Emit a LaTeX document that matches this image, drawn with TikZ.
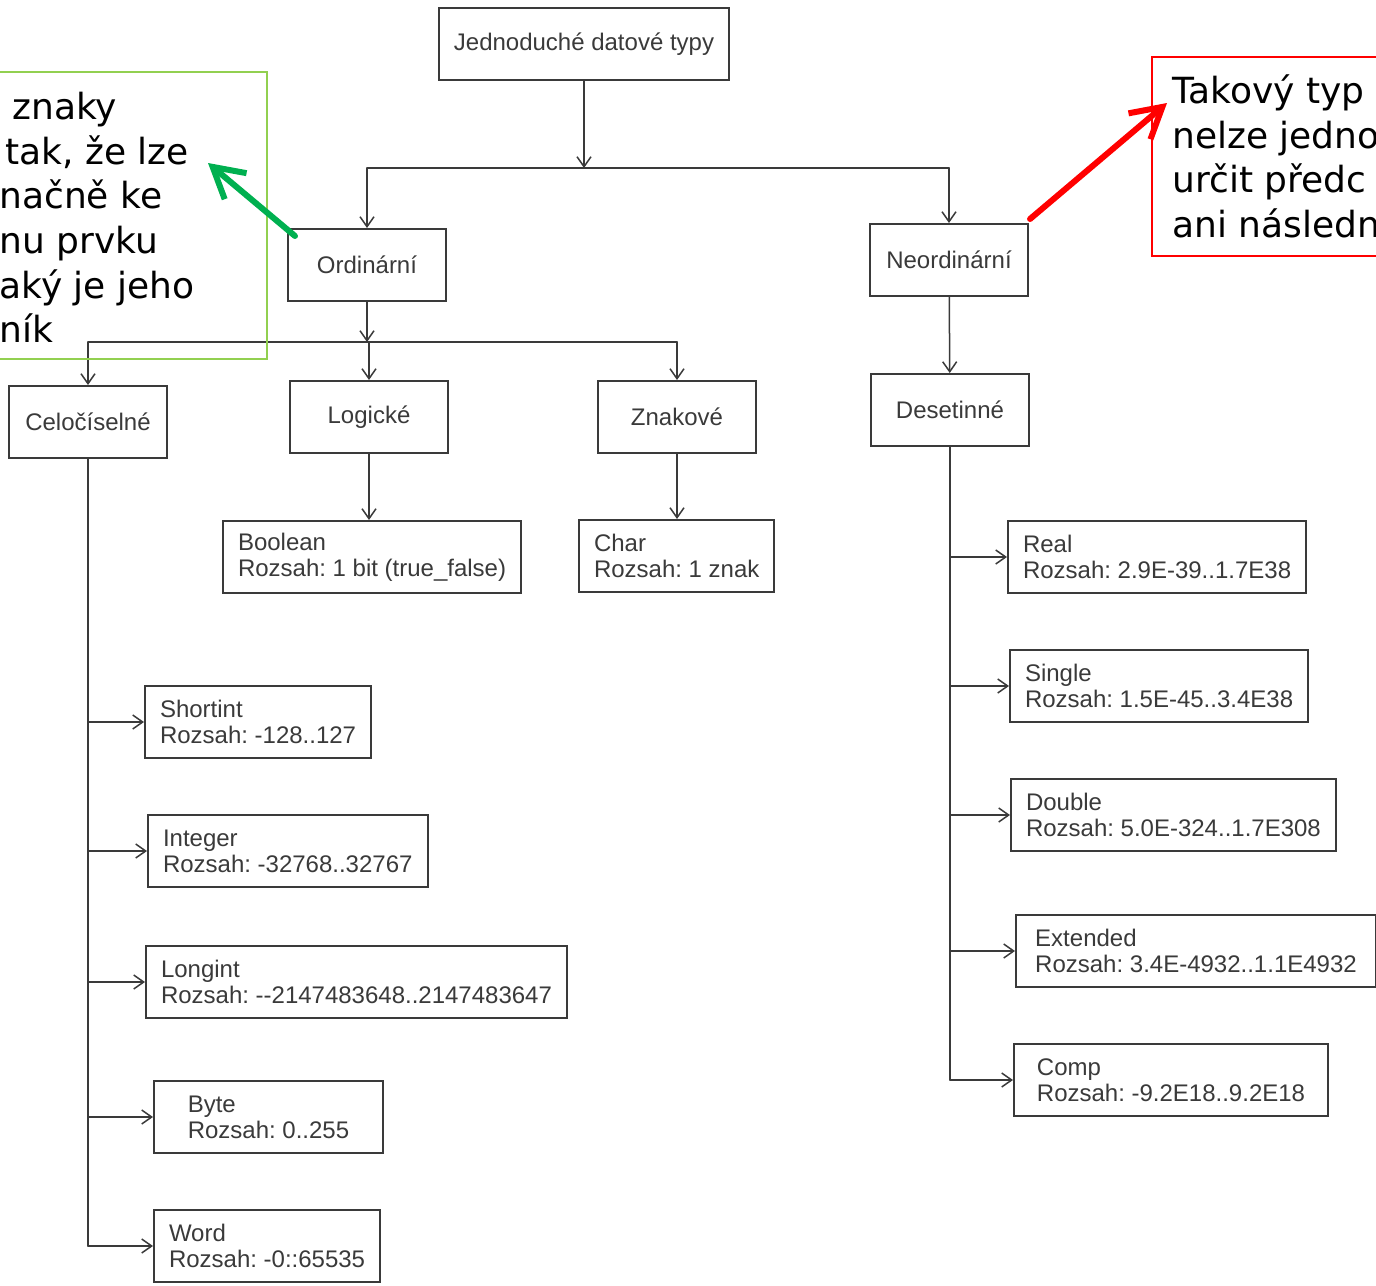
\documentclass[tikz,border=0pt]{standalone}
\usepackage{fontspec}
\setmainfont{Liberation Sans}
\newfontfamily\notefont{DejaVu Sans}
\usetikzlibrary{arrows.meta,positioning,calc}

\definecolor{ink}{HTML}{3A3A3A}
\definecolor{notegreen}{HTML}{92D050}
\definecolor{arrowgreen}{HTML}{00B050}
\definecolor{notered}{HTML}{FF0000}

\frenchspacing

\begin{document}
\begin{tikzpicture}[
  x=0.5pt,
  y=-0.5pt,
  line cap=round,
  font=\fontsize{12}{13}\selectfont,
  typebox/.style={draw=ink, line width=1pt, text=ink,
    inner xsep=7.5pt, minimum height=36pt},
  groupbox/.style={typebox, minimum width=79pt},
  leafbox/.style={typebox, align=left, anchor=west},
  link/.style={draw=ink, line width=0.75pt},
  arr/.style={link, -{Straight Barb[length=5pt,width=7pt]}},
  callout/.style={line width=3pt,
    -{Straight Barb[length=15pt,width=17pt]}},
  notetext/.style={font=\notefont\fontsize{18}{22}\selectfont,
    inner sep=0pt, anchor=base west}
]

% Page frame, the notes run off its edges
\useasboundingbox (0,0) rectangle (1376,1285);
\clip (0,0) rectangle (1376,1285);
\fill[white] (0,0) rectangle (1376,1285);

% Upper levels
\node[typebox] (simple) at (584,44) {Jednoduché datové typy};
\node[groupbox] (ordinal) at (367,265) {Ordinární};
\node[groupbox] (nonordinal) at (949,260) {Neordinární};
\node[groupbox] (integral) at (88,422) {Celočíselné};
\node[groupbox] (logical) at (369,417) {Logické};
\node[groupbox] (character) at (677,417) {Znakové};
\node[groupbox] (decimal) at (950,410) {Desetinné};

% Leaf types
\node[leafbox] (boolean) at (222,557) {Boolean\\Rozsah: 1 bit (true\_false)};
\node[leafbox] (char) at (578,556) {Char\\Rozsah: 1 znak};

\node[leafbox] (shortint) at (144,722) {Shortint\\Rozsah: -128..127};
\node[leafbox] (integer) at (147,851) {Integer\\Rozsah: -32768..32767};
\node[leafbox] (longint) at (145,982) {Longint\\Rozsah: -{}-2147483648..2147483647};
\node[leafbox, minimum width=114.5pt] (byte) at (153,1117) {Byte\\Rozsah: 0..255};
\node[leafbox] (word) at (153,1246) {Word\\Rozsah: -0::65535};

\node[leafbox] (real) at (1007,557) {Real\\Rozsah: 2.9E-39..1.7E38};
\node[leafbox] (single) at (1009,686) {Single\\Rozsah: 1.5E-45..3.4E38};
\node[leafbox] (double) at (1010,815) {Double\\Rozsah: 5.0E-324..1.7E308};
\node[leafbox, minimum width=180pt] (extended) at (1015,951) {Extended\\Rozsah: 3.4E-4932..1.1E4932};
\node[leafbox, minimum width=157pt] (comp) at (1013,1080) {Comp\\Rozsah: -9.2E18..9.2E18};

% First split
\coordinate (split) at (584,168);
\draw[arr] (simple) -- (split);
\draw[link] (split -| ordinal) -- (split -| nonordinal);
\draw[arr] (split -| ordinal) -- (ordinal);
\draw[arr] (split -| nonordinal) -- (nonordinal);

% Ordinal split
\draw[arr] (ordinal.south) -- ++(0,40) coordinate (osplit);
\draw[link] (osplit -| integral) -- (osplit -| character);
\foreach \n in {integral,logical,character}{
  \draw[arr] (osplit -| \n) -- (\n);
}
\draw[arr] (logical) -- (logical |- boolean.north);
\draw[arr] (character) -- (character |- char.north);
\draw[arr] (nonordinal) -- (decimal);

% Trunks
\draw[link] (integral.south) -- (integral.south |- word.west);
\foreach \n in {shortint,integer,longint,byte,word}{
  \draw[arr] (integral.south |- \n.west) -- (\n.west);
}

\draw[link] (decimal.south) -- (decimal.south |- comp.west);
\foreach \n in {real,single,double,extended,comp}{
  \draw[arr] (decimal.south |- \n.west) -- (\n.west);
}

% Green note
\draw[notegreen, line width=1pt] (-20,72) rectangle (267,359);
\foreach \dx/\yb/\t [count=\i] in {
  12/119/znaky,
  5/164/{tak, že lze},
  -1/208/načně ke,
  -1/253/nu prvku,
  -1/298/aký je jeho,
  -1/342/ník
}{
  \node[notetext] (gline\i) at (\dx,\yb) {\t};
}
\coordinate (gtip) at (208,163);
\draw[callout, arrowgreen] ($(ordinal.north west)+(8,8)$) -- (gtip);

% Red note
\draw[notered, line width=1pt] (1152,57) rectangle (1400,256);
\foreach \yb/\t [count=\i] in {
  103/Takový typ,
  148/nelze jedno,
  192/určit předc,
  237/ani následn
}{
  \node[notetext] (rline\i) at (1172,\yb) {\t};
}
\coordinate (rtip) at (1167,103);
\draw[callout, notered] ($(nonordinal.north east)+(1,-4)$) -- (rtip);

\end{tikzpicture}
\end{document}
